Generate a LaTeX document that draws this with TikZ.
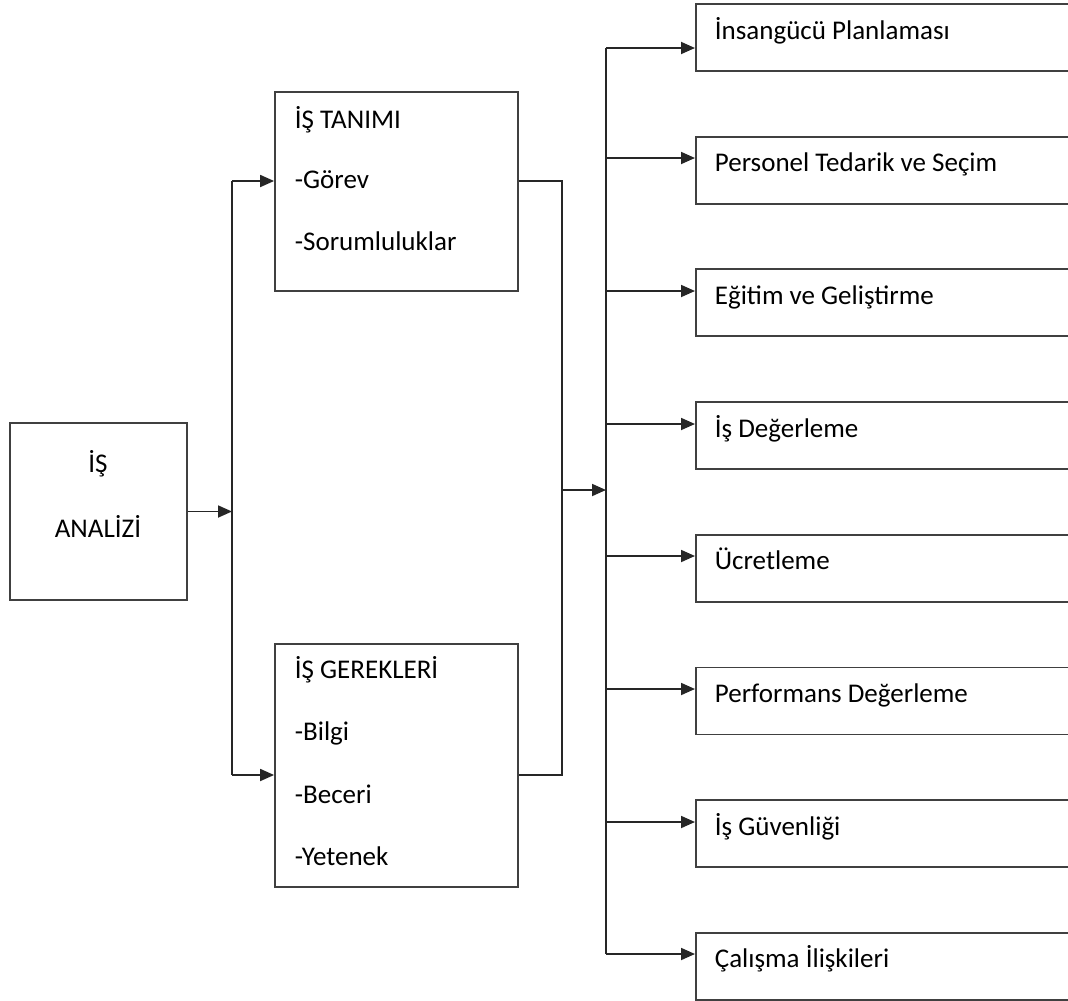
\documentclass[tikz,border=0pt]{standalone}
\usepackage{fontspec}
\setmainfont{Carlito}
\usetikzlibrary{arrows.meta, positioning, math}

\begin{document}
\begin{tikzpicture}[x=1pt, y=-1pt, line width=1.8pt,
  kutu/.style={draw=black!75, inner sep=0pt},
  yazi/.style={anchor=base west, inner sep=0pt, font=\fontsize{27}{32}\selectfont},
  ok/.style={-{Triangle[length=14pt,width=12pt]}},
  hat/.style={draw=black!85}]
\tikzmath{
\bx=606;
\rx=695;
\dy=132.7;
}
\useasboundingbox (0,0) rectangle (1068,1001);
\clip (0,0) rectangle (1068,1001);

% is analizi
\node[kutu, minimum width=177pt, minimum height=177pt] (analiz) at (98.5,511.5) {};
\node[yazi, anchor=base] (analiz1) at (98,472) {İŞ};
\node[yazi, anchor=base] (analiz2) at (98,537) {ANALİZİ};

% is tanimi
\node[kutu, minimum width=243pt, minimum height=199pt] (tanim) at (396.5,191.5) {};
\node[yazi] (tanim1) at (294,128) {İŞ TANIMI};
\node[yazi] (tanim2) at (294,188) {-Görev};
\node[yazi] (tanim3) at (294,250) {-Sorumluluklar};

% is gerekleri
\node[kutu, minimum width=243pt, minimum height=243pt] (gerek) at (396.5,765.5) {};
\node[yazi] (gerek1) at (294,678) {İŞ GEREKLERİ};
\node[yazi] (gerek2) at (294,740) {-Bilgi};
\node[yazi] (gerek3) at (294,803) {-Beceri};
\node[yazi] (gerek4) at (294,865) {-Yetenek};

\coordinate (solust) at (232,181);
\coordinate (solalt) at (232,775);
\coordinate (sagust) at (562,181);
\coordinate (sagalt) at (562,775);
\coordinate (orta) at (562,490);
\coordinate (busust) at (\bx,48);
\coordinate (busalt) at (\bx,954);

\draw[hat, ok] (analiz.east) -- (analiz.east -| solust);
\draw[hat] (solust) -- (solalt);
\draw[hat, ok] (solust) -- (solust -| tanim.west);
\draw[hat, ok] (solalt) -- (solalt -| gerek.west);
\draw[hat] (sagust -| tanim.east) -- (sagust) -- (sagalt) -- (sagalt -| gerek.east);
\draw[hat, ok] (orta) -- (orta -| busust);
\draw[hat] (busust) -- (busalt);

% sag kutular
\foreach \ad [count=\i from 0] in {İnsangücü Planlaması, Personel Tedarik ve Seçim,
  Eğitim ve Geliştirme, İş Değerleme, Ücretleme, Performans Değerleme,
  İş Güvenliği, Çalışma İlişkileri}{
  \pgfmathsetmacro{\ust}{3+\dy*\i}
  \pgfmathsetmacro{\oky}{round(max(\ust+22.5,48))}
  \node[kutu, anchor=north west, minimum width=420pt, minimum height=67pt] (is\i) at (\rx,\ust) {};
  \node[yazi] (isyazi\i) at (\rx+19,\ust+36) {\ad};
  \draw[hat, ok] (\bx,\oky) -- (is\i.west |- \bx,\oky);
}
\end{tikzpicture}
\end{document}
